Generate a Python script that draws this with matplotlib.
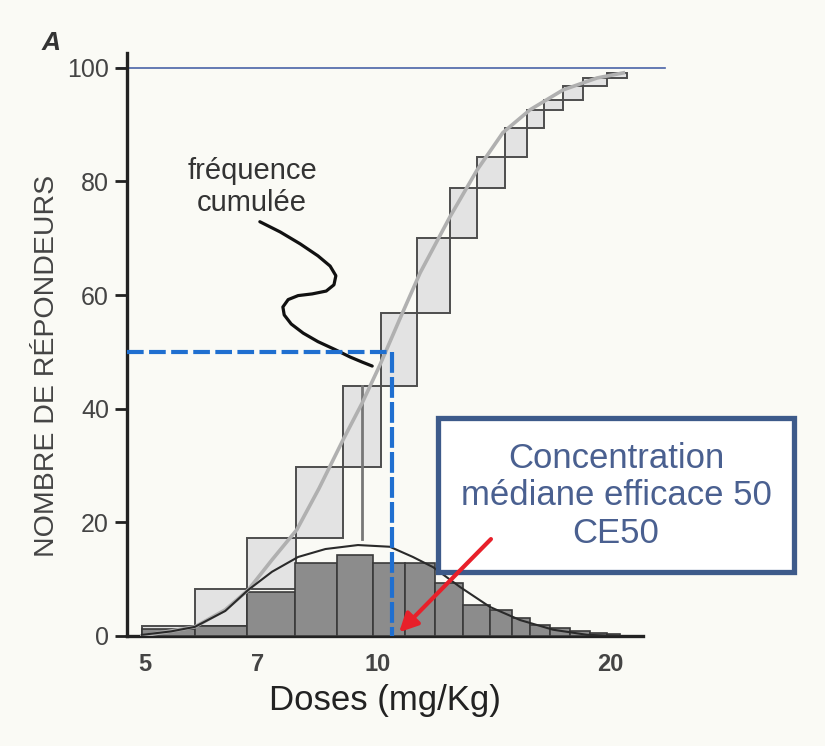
import matplotlib.pyplot as plt
from matplotlib.patches import Rectangle
import numpy as np

plt.rcParams['font.family'] = ['Liberation Sans', 'DejaVu Sans']

# histogram of responders per dose class (mg/Kg)
hist_edges = [4.955, 5.80, 6.78, 7.82, 8.86, 9.87, 10.86, 11.87, 12.90, 13.98,
              14.93, 15.75, 16.72, 17.76, 18.84, 19.82, 20.6]
hist_counts = [1.2, 1.7, 7.8, 12.9, 14.3, 12.9, 12.9, 9.4, 5.5, 4.6,
               3.2, 2.0, 1.4, 0.8, 0.5, 0.3]

# cumulative frequency steps
cum_edges = [4.955, 5.80, 6.78, 7.84, 9.02, 10.10, 11.25, 12.41, 13.45, 14.62,
             15.60, 16.41, 17.38, 18.44, 19.82, 21.0]
cum_values = [1.8, 8.3, 17.3, 29.8, 44.0, 56.9, 70.1, 78.9, 84.3, 89.4,
              92.6, 94.4, 96.7, 98.2, 99.1]

# smooth cumulative curve
sig_x = [4.955, 5.80, 6.35, 6.80, 7.30, 7.86, 8.40, 9.02, 9.55, 10.07, 10.70,
         11.35, 12.41, 13.45, 14.53, 15.75, 17.38, 19.23, 20.8]
sig_y = [0.0, 1.6, 4.6, 8.1, 13.4, 18.7, 26.0, 34.5, 41.0, 47.7, 56.0,
         63.9, 73.8, 82.0, 88.6, 92.6, 96.1, 98.2, 99.1]

# bell curve of the distribution
bell_x = [4.955, 5.40, 5.80, 6.35, 6.80, 7.30, 7.89, 8.56, 9.43, 10.37, 11.11,
          11.80, 12.79, 13.98, 15.29, 16.87, 18.67, 20.6]
bell_y = [0.2, 0.8, 1.6, 4.4, 8.1, 11.3, 13.9, 15.3, 16.0, 15.7, 13.9,
          12.1, 8.6, 5.1, 2.8, 1.1, 0.2, 0.0]

# hand drawn pointer for "fréquence cumulée"
curl_x = [7.04, 7.48, 7.94, 8.37, 8.68, 8.83, 8.78, 8.58, 8.23, 7.89, 7.66,
          7.54, 7.57, 7.73, 8.01, 8.37, 8.81, 9.21, 9.55, 9.84]
curl_y = [72.9, 71.1, 69.0, 66.9, 65.1, 63.4, 61.8, 60.7, 60.2, 59.9, 59.2,
          57.9, 56.5, 54.9, 53.3, 51.8, 50.4, 49.1, 48.2, 47.5]

median_dose = 9.55
ce50_dose = 10.45
ce50_level = 50
x_ticks = [5, 7, 10, 20]
y_ticks = [0, 20, 40, 60, 80, 100]

bg = '#fafaf5'
fig = plt.figure(figsize=(8.25, 7.46), dpi=100, facecolor=bg)
ax = fig.add_axes([0.154, 0.1475, 0.6255, 0.7815])
ax.set_facecolor(bg)
ax.set_xscale('log')

# cumulative step boxes
for i in range(len(cum_values)):
    lo = cum_values[i - 1] if i > 0 else 0
    ax.add_patch(Rectangle((cum_edges[i], lo), cum_edges[i + 1] - cum_edges[i],
                           cum_values[i] - lo, facecolor='#e3e3e3',
                           edgecolor='#4d4d4d', lw=1.4, zorder=2))

# histogram
ax.bar(hist_edges[:-1], hist_counts, width=np.diff(hist_edges), align='edge',
       color='#8c8c8c', edgecolor='#3a3a3a', lw=1.2, zorder=3)

ax.plot([median_dose, median_dose], [17, 44], color='#777777', lw=2, zorder=3)
ax.plot(sig_x, sig_y, color='#b0b0b0', lw=2.6, zorder=4)
ax.plot(bell_x, bell_y, color='#2a2a2a', lw=1.5, zorder=4)
ax.plot(curl_x, curl_y, color='#111111', lw=2.3, zorder=5,
        solid_capstyle='round', solid_joinstyle='round')

# CE50 dashed guides
ax.plot([4.739, ce50_dose], [ce50_level, ce50_level], color='#1f6fd0', lw=3,
        ls=(0, (4, 1.3)), zorder=6)
ax.plot([ce50_dose, ce50_dose], [ce50_level, 0], color='#1f6fd0', lw=3,
        ls=(0, (5, 1)), zorder=6)

# thin blue line at 100
ax.plot([-0.017, 1.043], [100, 100], transform=ax.get_yaxis_transform(),
        clip_on=False, color='#4a63a8', lw=1.2, zorder=1)

ax.text(6.88, 79, 'fréquence\ncumulée', ha='center', va='center', fontsize=21,
        color='#333333', linespacing=1.2)

ax.set_xlim(4.739, 22.06)
ax.set_ylim(0, 102.6)
ax.set_xticks(x_ticks)
ax.set_xticklabels([str(t) for t in x_ticks])
ax.minorticks_off()
ax.set_yticks(y_ticks)
ax.tick_params(axis='x', length=0, pad=12, labelsize=17, labelcolor='#444444')
ax.tick_params(axis='y', length=9, width=2, pad=4, labelsize=18,
               labelcolor='#444444', color='#222222')
for lbl in ax.get_xticklabels():
    lbl.set_fontweight('bold')
for s in ['top', 'right']:
    ax.spines[s].set_visible(False)
for s in ['left', 'bottom']:
    ax.spines[s].set_linewidth(2.4)
    ax.spines[s].set_color('#222222')

ax.set_xlabel('Doses (mg/Kg)', fontsize=25, color='#222222', labelpad=6)
fig.text(0.057, 0.51, 'NOMBRE DE RÉPONDEURS', rotation=90, ha='center',
         va='center', fontsize=20.5, color='#444444')
fig.text(0.05, 0.943, 'A', fontsize=19, fontweight='bold', fontstyle='italic',
         color='#333333', ha='left', va='center')

# annotation box (drawn inside the axes so the arrow can sit on top)
ax.add_patch(Rectangle((0.6027, 0.1098), 0.690, 0.2642, transform=ax.transAxes,
                       facecolor='white', edgecolor='#3d5a8a', lw=3.8,
                       zorder=7, clip_on=False))
ax.text(0.9477, 0.2401, 'Concentration\nmédiane efficace 50\nCE50',
        transform=ax.transAxes, ha='center', va='center', fontsize=25,
        color='#4a6090', linespacing=1.18, zorder=8, clip_on=False)

ax.annotate('', xy=(10.6, 0.3), xytext=(14.1, 17.4),
            arrowprops=dict(arrowstyle='-|>', color='#e8202a', lw=3,
                            mutation_scale=28),
            zorder=10, annotation_clip=False)

fig.savefig('out.png', dpi=100, facecolor=bg)
